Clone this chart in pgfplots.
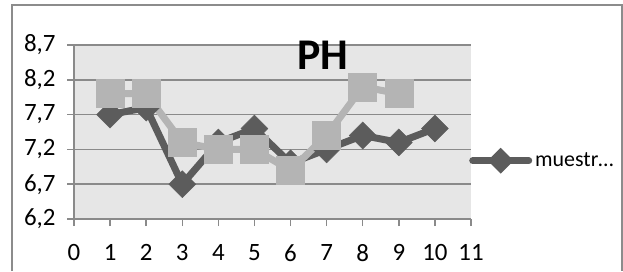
\documentclass[border=0pt]{standalone}
\usepackage{pgfplots}
\pgfplotsset{compat=1.18}
\usepackage{fontspec}
\setmainfont{Carlito}
\definecolor{darkser}{HTML}{5C5C5C}
\definecolor{lightser}{HTML}{B4B4B4}
\definecolor{bgplot}{HTML}{E6E6E6}
\definecolor{gridc}{HTML}{8A8A8A}
\definecolor{borderc}{HTML}{8C8C8C}
\begin{document}
\begin{tikzpicture}[x=1bp,y=1bp]
\useasboundingbox (0,0) rectangle (623,271);
\draw[borderc, line width=2bp] (12,0) -- (12,266) -- (622,266) -- (622,0);
\begin{axis}[
  at={(74bp,52bp)}, anchor=origin,
  scale only axis, width=397bp, height=174bp,
  xmin=0, xmax=11, ymin=6.2, ymax=8.7,
  xtick={0,1,...,11},
  ytick={6.2,6.7,7.2,7.7,8.2,8.7},
  yticklabel style={/pgf/number format/fixed, /pgf/number format/fixed zerofill,
    /pgf/number format/precision=1, /pgf/number format/use comma, xshift=-8bp},
  /pgf/number format/assume math mode=true,
  tick label style={font=\fontsize{25}{28}\selectfont, black},
  xticklabel style={yshift=-15bp},
  axis x line*=bottom, axis y line*=left,
  axis line style={gridc, line width=1.5bp, -},
  tick style={gridc, line width=1.5bp},
  tick align=outside, major tick length=7bp,
  ymajorgrids, grid style={gridc, line width=1.5bp},
  axis background/.style={fill=bgplot},
  clip=false,
  legend style={at={(0.995,0.335)}, anchor=west, draw=none, fill=none,
    font=\fontsize{22}{26}\selectfont, inner sep=0pt},
  legend image code/.code={
    \draw[darkser, line width=7bp, line cap=round] (0bp,0bp) -- (56bp,0bp);
    \fill[darkser] (28bp,8bp) -- (36bp,0bp) -- (28bp,-8bp) -- (20bp,0bp) -- cycle;
  },
  legend cell align=left,
]
\addplot[darkser, line width=7bp, mark=square*, mark size=9.5bp,
  mark options={rotate=45, fill=darkser, draw=darkser, line width=0.5bp}]
  coordinates {(1,7.7) (2,7.8) (3,6.7) (4,7.3) (5,7.5) (6,7.0) (7,7.2) (8,7.4) (9,7.3) (10,7.5)};
\addlegendentry{\hspace{1bp}muestr…}
\addplot[lightser, line width=7bp, mark=square*, mark size=14bp,
  mark options={fill=lightser, draw=lightser, line width=0.5bp}]
  coordinates {(1,8.0) (2,8.0) (3,7.3) (4,7.2) (5,7.2) (6,6.9) (7,7.4) (8,8.1) (9,8.0)};
\end{axis}
\node[font=\fontsize{44}{48}\selectfont\bfseries] at (323,216) {PH};
\end{tikzpicture}
\end{document}
